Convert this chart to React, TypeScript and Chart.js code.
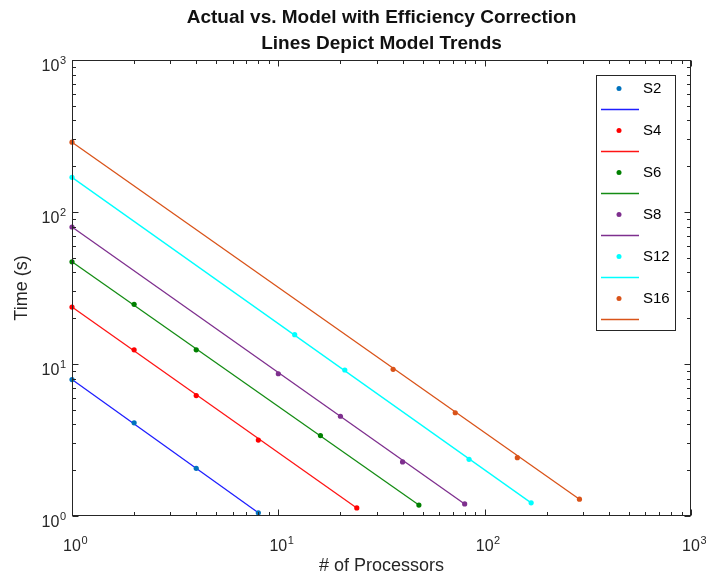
import React, { useEffect, useRef } from 'react';
import { Chart, registerables } from 'chart.js';

Chart.register(...registerables);

// ---------- data ----------
const seriesNames = ['S2', 'S4', 'S6', 'S8', 'S12', 'S16'];

const s2Procs = [1, 2, 4, 8];
const s2Times = [7.9, 4.1, 2.06, 1.05];

const s4Procs = [1, 2, 4, 8, 24];
const s4Times = [23.7, 12.4, 6.2, 3.16, 1.13];

const s6Procs = [1, 2, 4, 16, 48];
const s6Times = [47, 24.7, 12.4, 3.38, 1.18];

const s8Procs = [1, 10, 20, 40, 80];
const s8Times = [79.7, 8.63, 4.53, 2.27, 1.2];

const s12Procs = [1, 12, 21, 84, 168];
const s12Times = [169, 15.6, 9.13, 2.36, 1.22];

const s16Procs = [1, 36, 72, 144, 288];
const s16Times = [288, 9.23, 4.78, 2.42, 1.29];

const seriesProcs = [s2Procs, s4Procs, s6Procs, s8Procs, s12Procs, s16Procs];
const seriesTimes = [s2Times, s4Times, s6Times, s8Times, s12Times, s16Times];

const markerColors = [
  'rgb(0,114,189)',
  'rgb(255,0,0)',
  'rgb(0,128,0)',
  'rgb(126,47,142)',
  'rgb(0,255,255)',
  'rgb(217,83,25)',
];
const lineColors = [
  'rgb(30,30,255)',
  'rgb(255,20,20)',
  'rgb(20,140,20)',
  'rgb(126,47,142)',
  'rgb(0,255,255)',
  'rgb(217,83,25)',
];

const majorTickValues = [1, 10, 100, 1000];
const majorTickExponents = ['0', '1', '2', '3'];

const titleLines = ['Actual vs. Model with Efficiency Correction', 'Lines Depict Model Trends'];
const xAxisTitle = '# of Processors';
const yAxisTitle = 'Time (s)';

// ---------- styling ----------
const FONT = '"Liberation Sans", Arial, Helvetica, sans-serif';
const AXIS_COLOR = '#262626';
const BASE_PX = 16;
const EXP_PX = 11;

function drawPower(ctx: CanvasRenderingContext2D, x: number, baseline: number, exp: string, align: 'center' | 'right') {
  ctx.font = `${BASE_PX}px ${FONT}`;
  const wb = ctx.measureText('10').width;
  ctx.font = `${EXP_PX}px ${FONT}`;
  const we = ctx.measureText(exp).width;
  const bx = align === 'center' ? x - wb / 2 : x - wb - we - 0.5;
  ctx.textAlign = 'left';
  ctx.textBaseline = 'alphabetic';
  ctx.font = `${BASE_PX}px ${FONT}`;
  ctx.fillText('10', bx, baseline);
  ctx.font = `${EXP_PX}px ${FONT}`;
  ctx.fillText(exp, bx + wb + 0.5, baseline - 7);
}

const matlabAxes = {
  id: 'matlabAxes',
  afterDatasetsDraw(chart: any) {
    const { ctx, chartArea: a, scales } = chart;
    const xs = scales.x;
    const ys = scales.y;
    const L = Math.round(a.left) + 0.5;
    const R = Math.round(a.right) - 0.5;
    const T = Math.round(a.top) + 0.5;
    const B = Math.round(a.bottom) - 0.5;
    ctx.save();
    ctx.strokeStyle = AXIS_COLOR;
    ctx.lineWidth = 1;
    ctx.beginPath();
    const major = 6;
    const minor = 3.5;
    for (let d = 0; d < majorTickValues.length; d++) {
      const base = majorTickValues[d];
      for (let k = 1; k <= 9; k++) {
        if (d === majorTickValues.length - 1 && k > 1) break;
        const v = base * k;
        const len = k === 1 ? major : minor;
        const px = Math.round(xs.getPixelForValue(v)) + 0.5;
        ctx.moveTo(px, B);
        ctx.lineTo(px, B - len);
        ctx.moveTo(px, T);
        ctx.lineTo(px, T + len);
        const py = Math.round(ys.getPixelForValue(v)) + 0.5;
        ctx.moveTo(L, py);
        ctx.lineTo(L + len, py);
        ctx.moveTo(R, py);
        ctx.lineTo(R - len, py);
      }
    }
    ctx.stroke();
    ctx.strokeRect(L, T, R - L, B - T);

    ctx.fillStyle = AXIS_COLOR;
    majorTickValues.forEach((v, i) => {
      const px = xs.getPixelForValue(v);
      drawPower(ctx, px, a.bottom + 35, majorTickExponents[i], 'center');
      const py = ys.getPixelForValue(v);
      drawPower(ctx, a.left - 6, py + 11, majorTickExponents[i], 'right');
    });
    ctx.restore();
  },
  afterDraw(chart: any) {
    const { ctx } = chart;
    ctx.save();
    const boxL = 596.5, boxT = 75.5, boxR = 675.5, boxB = 330.5;
    ctx.fillStyle = '#ffffff';
    ctx.fillRect(boxL, boxT, boxR - boxL, boxB - boxT);
    ctx.strokeStyle = AXIS_COLOR;
    ctx.lineWidth = 1;
    ctx.strokeRect(boxL, boxT, boxR - boxL, boxB - boxT);
    seriesNames.forEach((name, i) => {
      const dy = 88.5 + 42 * i;
      ctx.fillStyle = markerColors[i];
      ctx.beginPath();
      ctx.arc(619, dy, 2.5, 0, Math.PI * 2);
      ctx.fill();
      ctx.fillStyle = '#000000';
      ctx.font = `15px ${FONT}`;
      ctx.textAlign = 'left';
      ctx.textBaseline = 'middle';
      ctx.fillText(name, 643, dy + 0.5);
      ctx.strokeStyle = lineColors[i];
      ctx.lineWidth = 1.3;
      ctx.beginPath();
      ctx.moveTo(601, dy + 21);
      ctx.lineTo(639, dy + 21);
      ctx.stroke();
    });
    ctx.restore();
  },
};

export default function App() {
  const canvasRef = useRef<HTMLCanvasElement | null>(null);

  useEffect(() => {
    if (!canvasRef.current) return;
    const datasets: any[] = [];
    seriesNames.forEach((name, i) => {
      const procs = seriesProcs[i];
      const times = seriesTimes[i];
      datasets.push({
        label: name,
        data: procs.map((p, j) => ({ x: p, y: times[j] })),
        showLine: false,
        pointRadius: 2.6,
        pointHoverRadius: 2.6,
        pointBorderWidth: 0,
        backgroundColor: markerColors[i],
        borderColor: markerColors[i],
        order: 0,
        clip: false,
      });
      const last = procs.length - 1;
      datasets.push({
        label: name + ' model',
        data: [
          { x: procs[0], y: times[0] },
          { x: procs[last], y: times[last] },
        ],
        showLine: true,
        pointRadius: 0,
        borderWidth: 1.3,
        borderColor: lineColors[i],
        backgroundColor: lineColors[i],
        order: 1,
        clip: false,
      });
    });

    const chart = new Chart(canvasRef.current, {
      type: 'scatter',
      data: { datasets },
      plugins: [matlabAxes],
      options: {
        animation: false,
        responsive: false,
        layout: { padding: { left: 0, right: 15, top: 0, bottom: 0 } },
        plugins: {
          legend: { display: false },
          tooltip: { enabled: false },
          title: {
            display: true,
            fullSize: false,
            text: titleLines,
            color: '#111111',
            font: { family: FONT, size: 19, weight: 'bold', lineHeight: 26 / 19 },
            padding: { top: 5, bottom: 3 },
          },
        },
        scales: {
          x: {
            type: 'logarithmic',
            min: 1,
            max: 1000,
            afterBuildTicks: (scale: any) => {
              scale.ticks = majorTickValues.map((v) => ({ value: v }));
            },
            grid: { display: false, drawTicks: false },
            border: { display: false },
            ticks: { display: false },
            title: {
              display: true,
              text: xAxisTitle,
              color: AXIS_COLOR,
              font: { family: FONT, size: 18, lineHeight: 1.2 },
              padding: { top: 39.4, bottom: 0 },
            },
          },
          y: {
            type: 'logarithmic',
            min: 1,
            max: 1000,
            afterBuildTicks: (scale: any) => {
              scale.ticks = majorTickValues.map((v) => ({ value: v }));
            },
            grid: { display: false, drawTicks: false },
            border: { display: false },
            ticks: { display: false },
            title: {
              display: true,
              text: yAxisTitle,
              color: AXIS_COLOR,
              font: { family: FONT, size: 18, lineHeight: 1.2 },
              padding: { top: 11, bottom: 39.4 },
            },
          },
        },
      } as any,
    });
    return () => chart.destroy();
  }, []);

  return (
    <div style={{ position: 'fixed', left: 0, top: 0, width: 706, height: 577, background: '#ffffff' }}>
      <canvas ref={canvasRef} width={706} height={577} style={{ display: 'block' }} />
    </div>
  );
}
